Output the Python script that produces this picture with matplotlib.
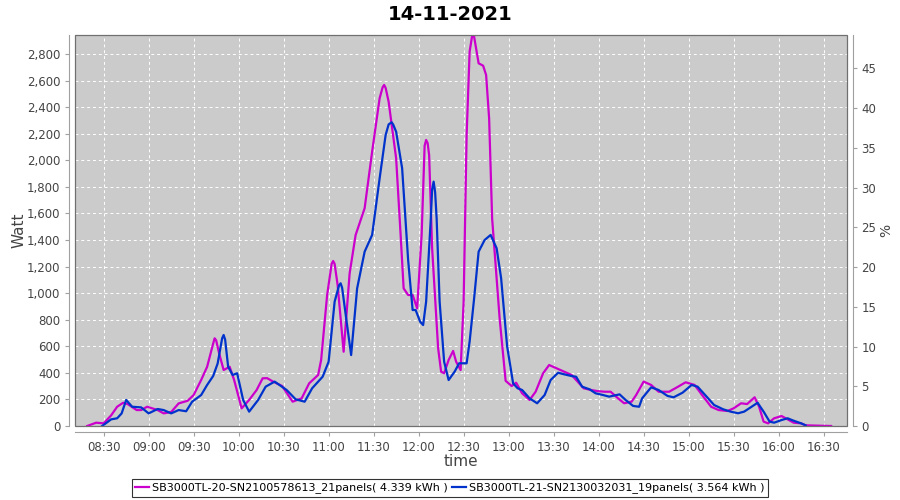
import pandas as pd
import matplotlib
matplotlib.use("Agg")
import matplotlib.pyplot as plt
import matplotlib.dates as mdates
from matplotlib.ticker import FuncFormatter, MultipleLocator
from matplotlib.patches import Rectangle

day = "2021-11-14 "

# SB3000TL-20 (magenta)
t_20 = ["08:19", "08:25", "08:30", "08:35", "08:39", "08:43", "08:46", "08:52", "08:55", "08:59",
        "09:06", "09:10", "09:15", "09:20", "09:26", "09:30", "09:35", "09:39", "09:43", "09:44",
        "09:45", "09:47", "09:50", "09:54", "09:57", "10:02", "10:07", "10:12", "10:16", "10:19",
        "10:23", "10:29", "10:36", "10:42", "10:47", "10:53", "10:55", "10:59", "11:02", "11:03",
        "11:04", "11:06", "11:10", "11:14", "11:18", "11:24", "11:29", "11:34", "11:36", "11:37",
        "11:38", "11:40", "11:45", "11:48", "11:50", "11:53", "11:56", "11:59", "12:02", "12:04",
        "12:05", "12:06", "12:07", "12:09", "12:13", "12:15", "12:17", "12:20", "12:23", "12:25",
        "12:28", "12:30", "12:32", "12:34", "12:36", "12:37", "12:40", "12:43", "12:45", "12:47",
        "12:49", "12:54", "12:58", "13:02", "13:05", "13:09", "13:14", "13:18", "13:23", "13:27",
        "13:32", "13:37", "13:42", "13:46", "13:50", "13:55", "13:59", "14:04", "14:08", "14:13",
        "14:17", "14:22", "14:25", "14:30", "14:35", "14:40", "14:47", "14:53", "14:58", "15:04",
        "15:09", "15:15", "15:20", "15:26", "15:30", "15:35", "15:39", "15:44", "15:47", "15:50",
        "15:53", "15:57", "16:02", "16:06", "16:10", "16:15", "16:18", "16:35"]
w_20 = [0, 25, 20, 80, 145, 175, 165, 120, 120, 145,
        120, 95, 105, 170, 190, 233, 346, 446, 620, 660,
        645, 547, 421, 446, 346, 133, 196, 271, 359, 360,
        334, 301, 183, 208, 321, 384, 497, 986, 1220, 1242,
        1220, 1061, 559, 1149, 1438, 1639, 2065, 2467, 2550, 2567,
        2545, 2441, 2015, 1438, 1036, 986, 986, 886, 1438, 2110,
        2153, 2130, 2040, 1338, 585, 409, 397, 497, 565, 484,
        421, 936, 2190, 2818, 2960, 2930, 2730, 2712, 2642, 2316,
        1563, 811, 340, 301, 326, 246, 196, 258, 397, 459,
        434, 409, 384, 334, 284, 271, 263, 258, 258, 208,
        171, 183, 233, 334, 309, 258, 258, 296, 329, 309,
        233, 145, 120, 113, 133, 171, 165, 216, 145, 33,
        20, 58, 75, 50, 25, 20, 5, 0]

# SB3000TL-21 (blue)
t_21 = ["08:29", "08:35", "08:39", "08:42", "08:45", "08:49", "08:55", "09:00", "09:06", "09:10",
        "09:15", "09:20", "09:25", "09:29", "09:35", "09:39", "09:43", "09:46", "09:49", "09:50",
        "09:51", "09:53", "09:56", "09:59", "10:03", "10:07", "10:13", "10:18", "10:24", "10:32",
        "10:38", "10:44", "10:49", "10:56", "11:00", "11:04", "11:07", "11:08", "11:09", "11:12",
        "11:15", "11:19", "11:24", "11:29", "11:34", "11:38", "11:40", "11:42", "11:43", "11:45",
        "11:49", "11:53", "11:56", "11:58", "12:01", "12:03", "12:05", "12:08", "12:09", "12:10",
        "12:11", "12:12", "12:14", "12:17", "12:20", "12:24", "12:27", "12:32", "12:34", "12:37",
        "12:40", "12:44", "12:48", "12:52", "12:55", "12:59", "13:03", "13:06", "13:09", "13:14",
        "13:19", "13:24", "13:28", "13:33", "13:37", "13:42", "13:45", "13:49", "13:54", "13:58",
        "14:03", "14:07", "14:14", "14:18", "14:23", "14:27", "14:29", "14:35", "14:40", "14:46",
        "14:50", "14:56", "15:02", "15:06", "15:12", "15:17", "15:23", "15:28", "15:33", "15:37",
        "15:42", "15:46", "15:50", "15:54", "15:57", "16:02", "16:06", "16:10", "16:15", "16:18"]
w_21 = [0, 50, 58, 95, 196, 145, 140, 95, 128, 120,
        95, 120, 111, 183, 233, 309, 376, 470, 660, 685,
        650, 446, 384, 397, 196, 108, 196, 296, 334, 271,
        201, 183, 284, 371, 484, 936, 1060, 1074, 1040, 785,
        534, 1036, 1312, 1438, 1864, 2190, 2270, 2286, 2270, 2215,
        1940, 1250, 873, 873, 785, 760, 936, 1538, 1780, 1839,
        1760, 1563, 936, 484, 346, 409, 472, 472, 635, 961,
        1312, 1400, 1438, 1338, 1112, 600, 321, 284, 271, 208,
        171, 233, 346, 401, 389, 376, 371, 296, 276, 246,
        233, 221, 238, 196, 151, 145, 208, 291, 271, 226,
        216, 251, 309, 296, 221, 158, 126, 108, 96, 108,
        145, 175, 108, 33, 25, 45, 58, 40, 20, 5]

label_20 = "SB3000TL-20-SN2100578613_21panels( 4.339 kWh )"
label_21 = "SB3000TL-21-SN2130032031_19panels( 3.564 kWh )"

x20 = pd.to_datetime([day + t for t in t_20])
x21 = pd.to_datetime([day + t for t in t_21])

fig = plt.figure(figsize=(9, 5), dpi=100)
ax = fig.add_axes([75 / 900, 74 / 500, 772 / 900, 391 / 500])
ax.set_facecolor("#cbcbcb")

ax.plot(x20, w_20, color="#cc00cc", lw=1.6, label=label_20, zorder=3,
        solid_joinstyle="round")
ax.plot(x21, w_21, color="#0033cc", lw=1.6, label=label_21, zorder=3,
        solid_joinstyle="round")

ax.set_xlim(pd.Timestamp(day + "08:10:54"), pd.Timestamp(day + "16:45:36"))
ax.set_ylim(0, 2943)
ax.xaxis.set_major_locator(mdates.MinuteLocator(byminute=[0, 30]))
ax.xaxis.set_major_formatter(mdates.DateFormatter("%H:%M"))
ax.yaxis.set_major_locator(MultipleLocator(200))
ax.yaxis.set_major_formatter(FuncFormatter(lambda v, p: f"{v:,.0f}"))
ax.grid(True, color="white", ls=(0, (3, 3)), lw=0.7)

for s in ["top", "right"]:
    ax.spines[s].set_visible(False)
for s in ["left", "bottom"]:
    ax.spines[s].set_position(("outward", 4))
    ax.spines[s].set_color("#a0a0a0")
ax.add_patch(Rectangle((0, 0), 1, 1, transform=ax.transAxes, fill=False,
                       edgecolor="#707070", lw=0.9, zorder=4, clip_on=False))
ax.tick_params(colors="#a0a0a0", labelcolor="#444444", labelsize=8.5, length=3)

ax2 = ax.twinx()
ax2.set_ylim(0, 49.2)
ax2.yaxis.set_major_locator(MultipleLocator(5))
for s in ["top", "left", "bottom"]:
    ax2.spines[s].set_visible(False)
ax2.spines["right"].set_position(("outward", 4))
ax2.spines["right"].set_color("#a0a0a0")
ax2.tick_params(colors="#a0a0a0", labelcolor="#444444", labelsize=8.5, length=3)
ax2.set_ylabel("%", fontsize=10, color="#444444", labelpad=2)

ax.set_ylabel("Watt", fontsize=11, color="#444444", labelpad=0)
ax.set_xlabel("time", fontsize=11, color="#444444", labelpad=0)
fig.suptitle("14-11-2021", fontsize=14, fontweight="bold", y=0.99)

leg = fig.legend(loc="center", bbox_to_anchor=(0.5, 0.024), ncol=2, fontsize=8,
                 frameon=True, fancybox=False, edgecolor="black", handlelength=1.2,
                 handletextpad=0.3, columnspacing=0.4, borderpad=0.3)
leg.get_frame().set_linewidth(0.8)

fig.savefig("out.png", dpi=100)
